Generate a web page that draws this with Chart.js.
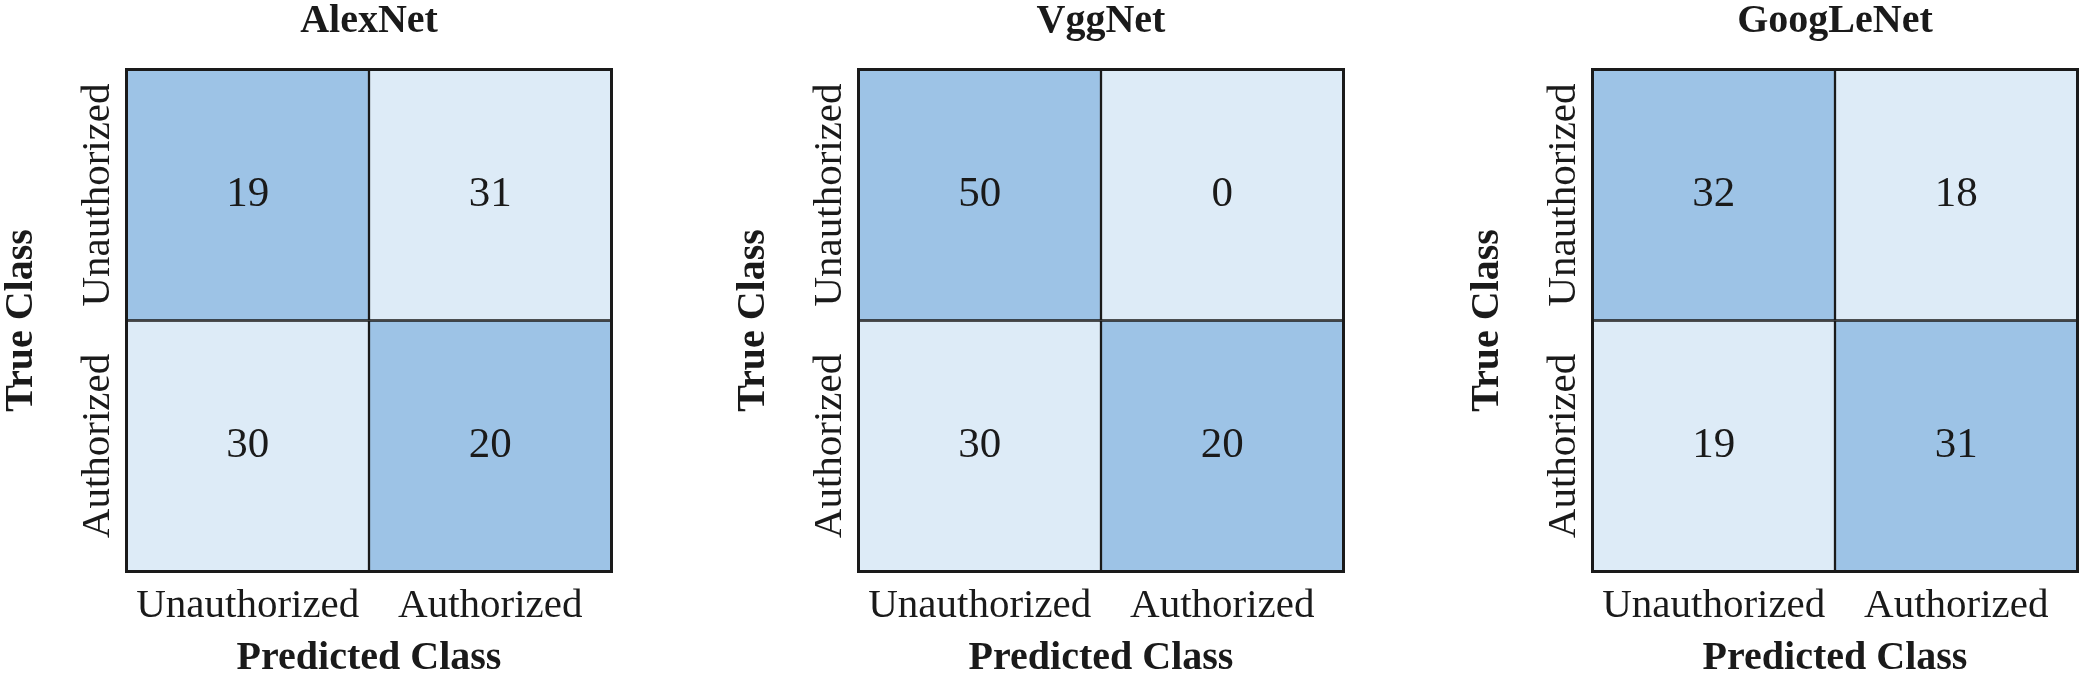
<!DOCTYPE html>
<html>
<head>
<meta charset="utf-8">
<script src="https://cdn.jsdelivr.net/npm/chart.js@4.4.1/dist/chart.umd.min.js"></script>
<style>
  html, body { margin: 0; padding: 0; background: #fff; }
  body { width: 2091px; height: 679px; position: relative; overflow: hidden; }
  .panel { position: absolute; top: 0; width: 625px; height: 679px; }
</style>
</head>
<body>
<div class="panel" style="left:0"><canvas id="alexnet" width="625" height="679"></canvas></div>
<div class="panel" style="left:732px"><canvas id="vggnet" width="625" height="679"></canvas></div>
<div class="panel" style="left:1466px"><canvas id="googlenet" width="625" height="679"></canvas></div>
<script>
// classes, true class = rows (top to bottom), predicted class = columns
const classes = ['Unauthorized', 'Authorized'];
const modelNames = ['AlexNet', 'VggNet', 'GoogLeNet'];
const alexNetCounts = [[19, 31], [30, 20]];
const vggNetCounts = [[50, 0], [30, 20]];
const googLeNetCounts = [[32, 18], [19, 31]];

const DARK = '#9dc3e6';
const LIGHT = '#ddebf7';
const INK = '#1a1a1a';
const SERIF = '"Liberation Serif", "Times New Roman", serif';

// draws the counts, the outer frame and the rotated row labels
const matrixText = {
  id: 'matrixText',
  afterDatasetsDraw(chart) {
    const ctx = chart.ctx;
    const area = chart.chartArea;
    ctx.save();
    ctx.font = '43px ' + SERIF;
    ctx.fillStyle = INK;
    ctx.textAlign = 'center';
    ctx.textBaseline = 'middle';
    chart.data.datasets.forEach((ds, i) => {
      chart.getDatasetMeta(i).data.forEach((bar, j) => {
        ctx.fillText(String(ds.counts[j]), bar.x, (bar.y + bar.base) / 2);
      });
    });

    ctx.lineWidth = 3;
    ctx.strokeStyle = INK;
    ctx.strokeRect(area.left, area.top, area.right - area.left, area.bottom - area.top);

    const yScale = chart.scales.y;
    ctx.font = '41px ' + SERIF;
    ctx.textBaseline = 'alphabetic';
    classes.forEach((label, r) => {
      const py = yScale.getPixelForValue(1.5 - r);
      ctx.save();
      ctx.translate(area.left - 18, py);
      ctx.rotate(-Math.PI / 2);
      ctx.fillText(label, 0, 0);
      ctx.restore();
    });
    ctx.restore();
  }
};

function buildDatasets(counts) {
  return counts.map((row, r) => ({
    label: classes[r],
    data: row.map(() => [1 - r, 2 - r]),
    counts: row,
    backgroundColor: row.map((v, c) => (r === c ? DARK : LIGHT)),
    borderColor: INK,
    borderWidth: 1.5,
    borderSkipped: false,
    grouped: false,
    barPercentage: 1,
    categoryPercentage: 1,
  }));
}

function drawMatrix(id, title, counts) {
  const ctx = document.getElementById(id).getContext('2d');
  return new Chart(ctx, {
    type: 'bar',
    data: { labels: classes, datasets: buildDatasets(counts) },
    options: {
      responsive: false,
      animation: false,
      devicePixelRatio: 1,
      layout: { padding: { left: 0, right: 13.5, top: 0, bottom: 0 } },
      plugins: {
        legend: { display: false },
        tooltip: { enabled: false },
        title: {
          display: true,
          text: title,
          fullSize: false,
          color: INK,
          font: { family: SERIF, size: 40, weight: 'bold', lineHeight: 1.1 },
          padding: { top: 0, bottom: 25.5 },
        },
      },
      scales: {
        x: {
          type: 'category',
          offset: true,
          grid: { display: false },
          border: { display: false },
          ticks: { color: INK, font: { family: SERIF, size: 41 }, padding: 2, maxRotation: 0 },
          title: {
            display: true,
            text: 'Predicted Class',
            color: INK,
            font: { family: SERIF, size: 40, weight: 'bold', lineHeight: 1 },
            padding: { top: 2, bottom: 0 },
          },
          afterFit(scale) { scale.height = 107.5; },
        },
        y: {
          min: 0,
          max: 2,
          grid: { display: false },
          border: { display: false },
          ticks: { display: false },
          title: {
            display: true,
            text: 'True Class',
            color: INK,
            font: { family: SERIF, size: 40, weight: 'bold', lineHeight: 1 },
            padding: { top: 2, bottom: 0 },
          },
          afterFit(scale) { scale.width = 126.5; },
        },
      },
    },
    plugins: [matrixText],
  });
}

drawMatrix('alexnet', modelNames[0], alexNetCounts);
drawMatrix('vggnet', modelNames[1], vggNetCounts);
drawMatrix('googlenet', modelNames[2], googLeNetCounts);
</script>
</body>
</html>
